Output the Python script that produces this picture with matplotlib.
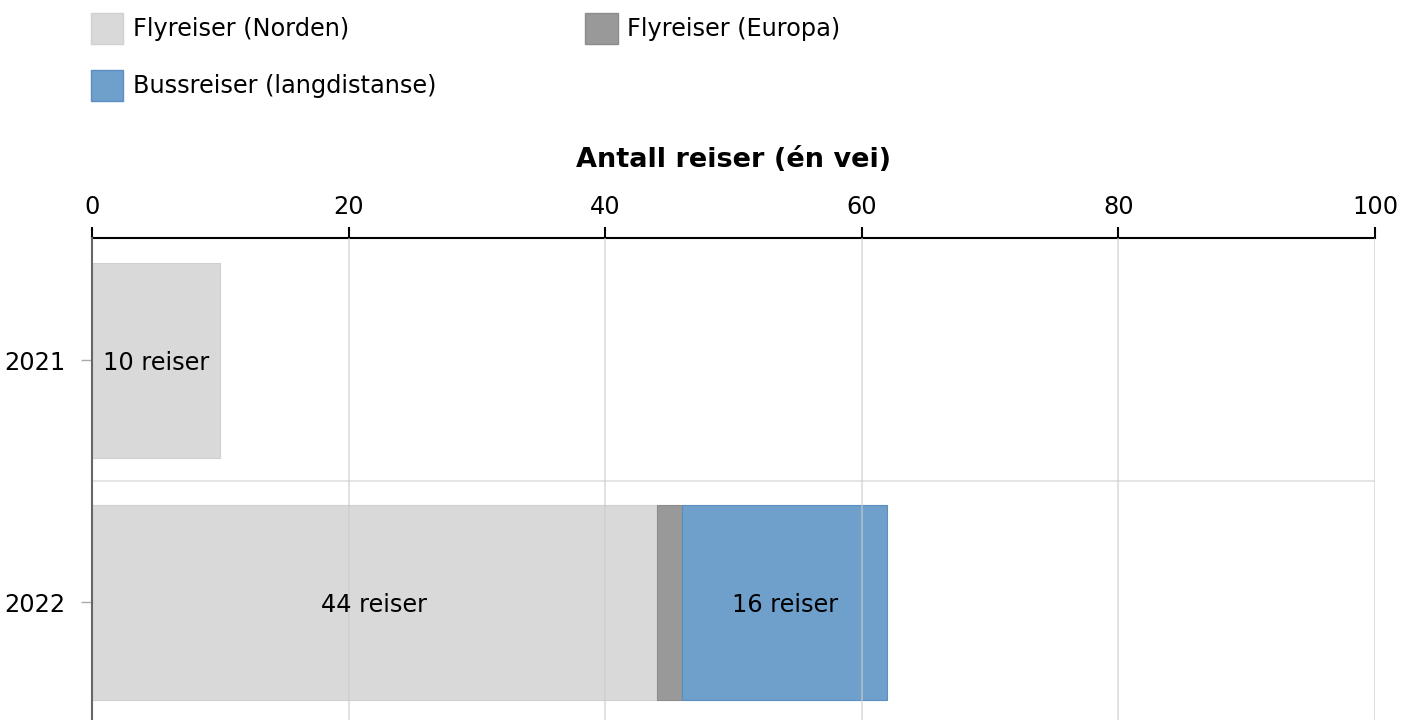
import matplotlib.pyplot as plt
from matplotlib.patches import Patch

# ── Data ──
years = ["2021", "2022"]
series = ["Flyreiser (Norden)", "Flyreiser (Europa)", "Bussreiser (langdistanse)"]
norden = [10, 44]
europa = [0, 2]
buss = [0, 16]
colors = ["#d9d9d9", "#999999", "#6f9fcb"]
edges = ["#d0d0d0", "#8c8c8c", "#5b8fc4"]

plt.rcParams["font.family"] = ["Verdana", "DejaVu Sans"]

fig = plt.figure(figsize=(14.15, 7.2), dpi=100)
ax = fig.add_axes([92 / 1415, 0, (1375 - 92) / 1415, (720 - 238) / 720])

pos = list(range(len(years)))
left = [0] * len(years)
for vals, c, e in zip([norden, europa, buss], colors, edges):
    for p, v, l in zip(pos, vals, left):
        if v == 0:
            continue
        ax.barh(p, v, left=l, height=0.806, color=c, edgecolor=e, linewidth=0.8, zorder=2)
        if v >= 5:
            ax.text(l + v / 2, p, f"{v} reiser", ha="center", va="center_baseline",
                    fontsize=17.3, zorder=4)
    left = [l + v for l, v in zip(left, vals)]

# ── Axes styling ──
ax.set_xlim(0, 100)
ax.set_ylim(1.486, -0.506)
ax.xaxis.tick_top()
ax.xaxis.set_label_position("top")
ax.set_xticks([0, 20, 40, 60, 80, 100])
ax.set_yticks(pos)
ax.set_yticklabels(years)
ax.set_xlabel("Antall reiser (én vei)", fontsize=19.5, fontweight="bold", labelpad=20)
ax.tick_params(axis="x", length=8, width=1.5, color="black", labelsize=17.3, pad=6)
ax.tick_params(axis="y", length=8, width=1, color="#aaaaaa", labelsize=17.3, pad=11)

for x in [20, 40, 60, 80, 100]:
    ax.axvline(x, color="#cccccc", linewidth=1.2, alpha=0.7, zorder=3)
ax.axhline(0.5, color="#e0e0e0", linewidth=1.2, zorder=1)

ax.spines["right"].set_visible(False)
ax.spines["bottom"].set_visible(False)
ax.spines["top"].set_color("black")
ax.spines["top"].set_linewidth(1.5)
ax.spines["left"].set_color("#666666")
ax.spines["left"].set_linewidth(1.5)
ax.spines["left"].set_zorder(5)

# ── Legend (row-major order: Norden, Europa / Buss) ──
order = [0, 2, 1]
handles = [Patch(facecolor=colors[i], edgecolor=edges[i], label=series[i]) for i in order]
fig.legend(handles=handles, loc="upper left", bbox_to_anchor=(69 / 1415, 1.012),
           ncol=2, frameon=False, fontsize=17.3, handlelength=1.35, handleheight=1.6,
           handletextpad=0.4, columnspacing=6.2, labelspacing=1.08, borderaxespad=0.5)

plt.savefig("out.png", dpi=100)
